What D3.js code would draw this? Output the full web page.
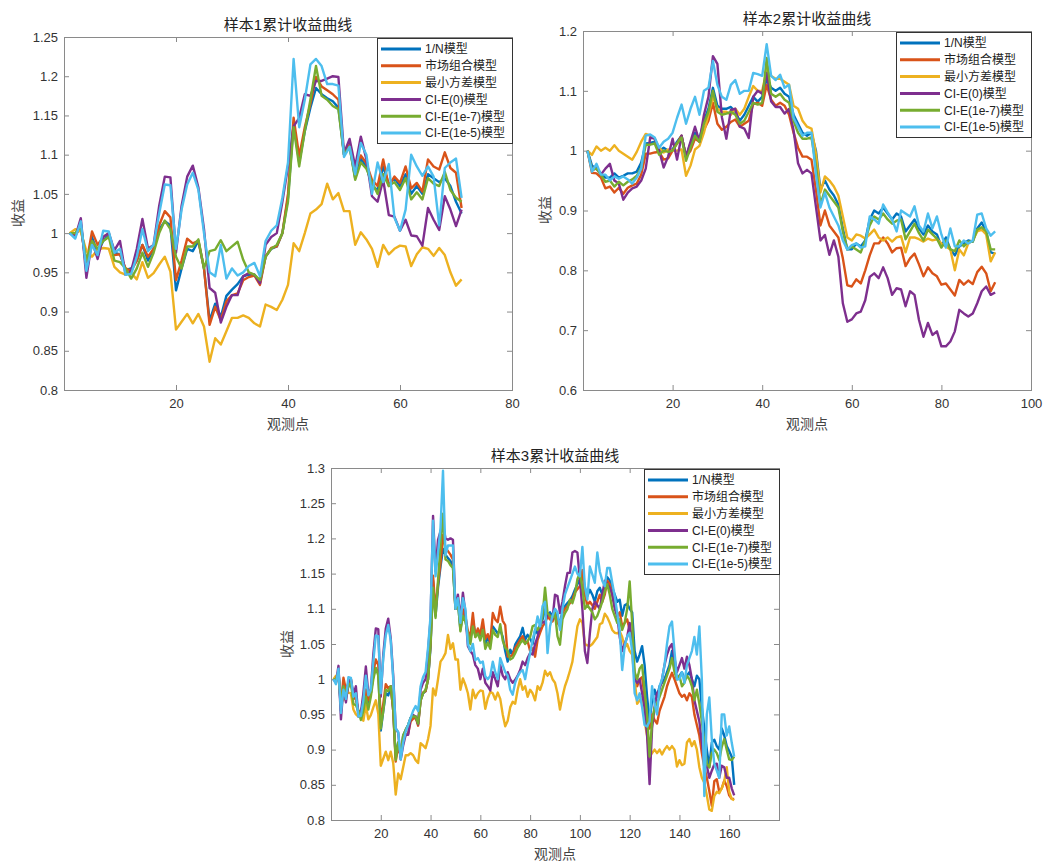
<!DOCTYPE html>
<html><head><meta charset="utf-8">
<script src="https://cdn.jsdelivr.net/npm/d3@7"></script>
<style>body{margin:0;background:#fff}</style>
</head><body>
<svg id="c" width="1048" height="861"></svg>
<script>
const seriesNames = ["1/N模型","市场组合模型","最小方差模型","CI-E(0)模型","CI-E(1e-7)模型","CI-E(1e-5)模型"];
const seriesColors = ["#0072BD","#D95319","#EDB120","#7E2F8E","#77AC30","#4DBEEE"];
const titles = ["样本1累计收益曲线","样本2累计收益曲线","样本3累计收益曲线"];
const xLabel = "观测点", yLabel = "收益";

const s1XTicks = [20,40,60,80];
const s2XTicks = [20,40,60,80,100];
const s3XTicks = [20,40,60,80,100,120,140,160];
const s1YTicks = [0.8,0.85,0.9,0.95,1,1.05,1.1,1.15,1.2,1.25];
const s2YTicks = [0.6,0.7,0.8,0.9,1,1.1,1.2];
const s3YTicks = [0.8,0.85,0.9,0.95,1,1.05,1.1,1.15,1.2,1.25,1.3];

// ---- sample 1 (71 points) ----
const s1Blue = [1.0,0.997,1.012,0.955,0.995,0.975,0.99,0.997,0.975,0.973,
0.953,0.955,0.965,0.985,0.965,0.98,1.005,1.015,1.01,0.927,
0.955,0.98,0.977,0.99,0.955,0.888,0.91,0.893,0.92,0.928,
0.935,0.945,0.947,0.947,0.937,0.97,0.98,0.983,1.0,1.045,
1.14,1.09,1.13,1.16,1.185,1.177,1.172,1.168,1.16,1.1,
1.11,1.07,1.095,1.085,1.06,1.055,1.085,1.062,1.07,1.06,
1.075,1.05,1.06,1.05,1.075,1.07,1.065,1.07,1.06,1.04,1.025];
const s1Market = [1.0,0.998,1.006,0.962,1.002,0.985,0.995,1.0,0.972,0.973,
0.955,0.952,0.965,0.985,0.97,0.98,1.01,1.028,1.02,0.94,
0.965,0.993,0.987,0.99,0.955,0.883,0.906,0.889,0.913,0.921,
0.923,0.94,0.944,0.946,0.934,0.97,0.981,0.983,1.0,1.05,
1.147,1.098,1.135,1.165,1.199,1.187,1.182,1.177,1.17,1.1,
1.113,1.081,1.099,1.089,1.068,1.06,1.094,1.06,1.072,1.064,
1.085,1.057,1.064,1.053,1.094,1.085,1.081,1.103,1.083,1.077,1.032];
const s1MinVar = [1.0,1.005,1.002,0.977,0.970,0.979,0.981,0.980,0.957,0.950,
0.947,0.949,0.941,0.963,0.943,0.949,0.960,0.970,0.951,0.877,
0.887,0.897,0.885,0.897,0.881,0.836,0.866,0.858,0.875,0.892,
0.892,0.895,0.892,0.885,0.881,0.909,0.906,0.902,0.915,0.934,
0.987,0.977,1.0,1.025,1.03,1.037,1.063,1.043,1.051,1.028,
1.028,0.985,1.001,0.992,0.98,0.957,0.985,0.973,0.98,0.984,
0.983,0.958,0.973,0.982,0.98,0.971,0.981,0.972,0.95,0.933,0.941];
const s1CIE0 = [1.0,0.995,1.019,0.943,0.99,0.967,0.995,1.0,0.978,0.99,
0.947,0.952,0.98,1.018,0.98,0.985,1.035,1.072,1.071,0.975,
1.035,1.072,1.086,1.058,1.005,0.93,0.924,0.886,0.906,0.921,
0.921,0.945,0.949,0.947,0.936,0.985,0.995,1.0,1.04,1.085,
1.136,1.147,1.177,1.175,1.194,1.194,1.197,1.2,1.199,1.102,
1.12,1.085,1.123,1.094,1.047,1.04,1.068,1.023,1.021,1.003,
1.017,0.997,0.996,0.984,1.032,1.017,1.004,1.047,1.03,1.009,1.03];
const s1CIE7 = [1.0,1.0,1.008,0.965,0.99,0.98,0.99,0.995,0.965,0.963,
0.955,0.942,0.955,0.975,0.957,0.975,1.0,1.016,1.005,0.97,
0.955,0.983,0.983,0.992,0.955,0.977,0.979,0.991,0.977,0.983,
0.989,0.966,0.95,0.947,0.94,0.97,0.98,0.985,1.0,1.04,
1.135,1.085,1.13,1.17,1.213,1.175,1.17,1.162,1.158,1.1,
1.11,1.068,1.09,1.082,1.065,1.05,1.075,1.06,1.065,1.055,
1.07,1.043,1.052,1.043,1.07,1.063,1.06,1.078,1.055,1.045,1.04];
const s1CIE5 = [1.0,0.993,1.015,0.952,0.985,0.972,1.003,1.002,0.975,0.98,
0.947,0.948,0.97,1.005,0.977,0.985,1.025,1.062,1.061,0.98,
1.03,1.062,1.077,1.055,1.0,0.95,0.945,0.985,0.942,0.955,
0.946,0.95,0.958,0.962,0.945,0.99,1.003,1.01,1.045,1.09,
1.222,1.135,1.17,1.215,1.222,1.213,1.19,1.19,1.188,1.097,
1.11,1.075,1.115,1.1,1.05,1.09,1.065,1.088,1.02,1.003,
1.03,1.1,1.085,1.073,1.085,1.072,1.01,1.083,1.09,1.095,1.045];

// ---- sample 2 (92 points) ----
const s2Blue = [1.0,0.975,0.97,0.962,0.955,0.955,0.962,0.955,0.958,0.962,
0.962,0.965,0.98,1.012,1.013,1.015,1.0,1.005,1.0,1.002,
1.015,1.025,0.99,1.012,1.03,1.02,1.05,1.07,1.105,1.075,
1.07,1.07,1.073,1.065,1.05,1.06,1.075,1.09,1.082,1.09,
1.12,1.105,1.1,1.105,1.095,1.09,1.06,1.045,1.03,1.025,
1.03,1.0,0.935,0.95,0.935,0.925,0.91,0.87,0.835,0.835,
0.845,0.84,0.85,0.885,0.9,0.895,0.905,0.895,0.885,0.895,
0.89,0.865,0.875,0.885,0.87,0.86,0.875,0.865,0.86,0.84,
0.855,0.835,0.825,0.84,0.845,0.85,0.848,0.87,0.88,0.865,
0.83,0.828];
const s2Market = [1.0,0.963,0.962,0.955,0.937,0.94,0.93,0.938,0.928,0.938,
0.942,0.945,0.96,0.995,0.995,0.997,0.998,0.985,0.987,1.0,
1.012,1.025,0.99,1.0,1.02,1.015,1.035,1.05,1.08,1.045,
1.035,1.04,1.048,1.052,1.04,1.045,1.05,1.078,1.08,1.075,
1.11,1.085,1.075,1.08,1.075,1.06,1.03,1.005,0.99,0.99,
0.985,0.935,0.875,0.9,0.875,0.865,0.855,0.82,0.775,0.773,
0.785,0.778,0.8,0.825,0.845,0.845,0.855,0.845,0.83,0.837,
0.838,0.807,0.82,0.828,0.81,0.79,0.805,0.795,0.79,0.776,
0.778,0.768,0.758,0.784,0.776,0.783,0.777,0.797,0.806,0.795,
0.765,0.78];
const s2MinVar = [1.0,0.993,1.007,1.0,1.005,1.0,1.009,1.0,0.995,0.99,
0.985,0.998,1.015,1.028,1.025,1.02,1.005,0.997,1.002,1.0,
1.0,1.002,0.958,0.975,1.002,1.008,1.03,1.06,1.09,1.07,
1.065,1.065,1.06,1.07,1.06,1.07,1.09,1.108,1.1,1.1,
1.135,1.125,1.12,1.12,1.115,1.11,1.075,1.07,1.05,1.04,
1.037,0.995,0.93,0.957,0.95,0.94,0.925,0.89,0.855,0.85,
0.86,0.858,0.853,0.86,0.868,0.855,0.85,0.855,0.848,0.855,
0.857,0.83,0.855,0.855,0.852,0.848,0.853,0.85,0.852,0.845,
0.84,0.835,0.8,0.835,0.825,0.845,0.85,0.865,0.868,0.86,
0.815,0.83];
const s2CIE0 = [1.0,0.968,0.97,0.96,0.97,0.978,0.95,0.945,0.918,0.93,
0.937,0.94,0.95,0.97,1.022,1.02,1.0,0.972,0.99,1.02,
0.985,1.025,0.99,1.015,1.04,1.015,1.06,1.09,1.158,1.145,
1.056,1.02,1.068,1.07,1.04,1.037,1.021,1.09,1.1,1.095,
1.13,1.082,1.073,1.073,1.062,1.07,1.034,0.979,0.962,0.968,
0.962,0.906,0.85,0.859,0.826,0.85,0.823,0.745,0.714,0.718,
0.728,0.731,0.75,0.789,0.795,0.787,0.805,0.787,0.759,0.77,
0.768,0.74,0.765,0.759,0.717,0.689,0.712,0.692,0.698,0.673,
0.673,0.681,0.698,0.734,0.728,0.723,0.728,0.745,0.765,0.773,
0.759,0.763];
const s2CIE7 = [1.0,0.968,0.97,0.96,0.948,0.95,0.94,0.948,0.942,0.948,
0.952,0.958,0.972,1.01,1.01,1.012,0.993,1.0,0.998,1.0,
1.012,1.022,0.983,1.005,1.025,1.015,1.045,1.065,1.1,1.065,
1.06,1.062,1.065,1.06,1.045,1.05,1.065,1.08,1.077,1.08,
1.155,1.095,1.09,1.095,1.085,1.08,1.05,1.03,1.02,1.02,
1.022,0.975,0.91,0.935,0.925,0.915,0.905,0.865,0.835,0.84,
0.835,0.83,0.85,0.875,0.89,0.885,0.895,0.885,0.878,0.883,
0.885,0.852,0.865,0.878,0.862,0.85,0.868,0.86,0.853,0.838,
0.85,0.835,0.832,0.85,0.84,0.848,0.848,0.868,0.872,0.865,
0.835,0.835];
const s2CIE5 = [1.0,0.965,0.978,0.96,0.96,0.95,0.957,0.953,0.957,0.952,
0.945,0.955,0.97,1.025,1.027,1.022,1.005,1.015,1.02,1.03,
1.055,1.077,1.045,1.07,1.09,1.06,1.1,1.105,1.15,1.11,
1.09,1.085,1.11,1.118,1.095,1.1,1.1,1.13,1.128,1.125,
1.178,1.125,1.118,1.127,1.105,1.11,1.055,1.04,1.025,1.03,
1.03,0.96,0.905,0.93,0.905,0.89,0.875,0.85,0.835,0.842,
0.845,0.838,0.84,0.89,0.885,0.878,0.91,0.897,0.885,0.865,
0.9,0.895,0.89,0.907,0.875,0.865,0.895,0.87,0.89,0.86,
0.838,0.87,0.84,0.84,0.85,0.845,0.85,0.893,0.895,0.87,
0.858,0.865];

// ---- sample 3 (162 points) ----
const s3Blue = [1.0,0.997,1.012,0.955,0.995,0.975,0.99,0.997,0.975,0.973,
0.953,0.955,0.965,0.985,0.965,0.98,1.005,1.015,1.01,0.927,
0.955,0.98,0.977,0.99,0.955,0.888,0.91,0.893,0.92,0.928,
0.935,0.945,0.947,0.947,0.937,0.97,0.98,0.983,1.0,1.045,
1.14,1.09,1.13,1.16,1.185,1.177,1.172,1.168,1.16,1.1,
1.11,1.07,1.095,1.085,1.06,1.055,1.085,1.062,1.07,1.06,
1.075,1.05,1.06,1.05,1.075,1.07,1.065,1.07,1.06,1.04,1.025,
1.042,1.035,1.049,1.055,1.061,1.073,1.056,1.063,1.058,1.05,
1.07,1.065,1.078,1.085,1.099,1.09,1.095,1.089,1.095,1.085,
1.082,1.095,1.104,1.108,1.112,1.118,1.127,1.135,1.142,1.15,
1.13,1.118,1.127,1.12,1.11,1.125,1.13,1.12,1.13,1.145,
1.14,1.13,1.12,1.11,1.113,1.09,1.105,1.107,1.1,1.095,
1.04,1.025,1.035,1.047,1.02,0.975,0.94,0.97,0.985,0.975,
0.99,0.995,1.0,1.01,1.02,1.04,1.02,1.0,1.005,1.01,
1.0,1.005,1.01,1.0,0.99,1.005,1.0,0.96,0.93,0.9,
0.875,0.91,0.914,0.905,0.9,0.93,0.92,0.905,0.898,0.89,0.85];
const s3Market = [1.0,0.998,1.006,0.962,1.002,0.985,0.995,1.0,0.972,0.973,
0.955,0.952,0.965,0.985,0.97,0.98,1.01,1.028,1.02,0.94,
0.965,0.993,0.987,0.99,0.955,0.883,0.906,0.889,0.913,0.921,
0.923,0.94,0.944,0.946,0.934,0.97,0.981,0.983,1.0,1.05,
1.147,1.098,1.135,1.165,1.205,1.187,1.182,1.177,1.17,1.1,
1.113,1.081,1.099,1.089,1.068,1.06,1.094,1.06,1.072,1.064,
1.085,1.057,1.064,1.053,1.094,1.085,1.081,1.103,1.083,1.077,1.032,
1.032,1.035,1.044,1.05,1.056,1.061,1.051,1.054,1.04,1.044,
1.032,1.056,1.066,1.075,1.08,1.089,1.085,1.082,1.09,1.08,
1.075,1.094,1.1,1.104,1.108,1.113,1.123,1.128,1.132,1.155,
1.12,1.105,1.11,1.105,1.1,1.11,1.12,1.11,1.12,1.14,
1.135,1.12,1.105,1.09,1.095,1.075,1.08,1.085,1.07,1.06,
1.0,0.99,1.0,1.003,0.975,0.945,0.93,0.95,0.942,0.937,
0.955,0.965,0.975,0.99,1.0,1.009,1.0,0.99,0.98,0.975,
0.978,0.97,0.98,0.975,0.95,0.935,0.92,0.895,0.875,0.86,
0.841,0.82,0.855,0.858,0.84,0.845,0.856,0.848,0.835,0.83,0.83];
const s3MinVar = [1.0,1.005,1.002,0.977,0.970,0.979,0.981,0.980,0.957,0.950,
0.947,0.949,0.941,0.963,0.943,0.949,0.960,0.970,0.951,0.877,
0.887,0.897,0.885,0.897,0.881,0.836,0.866,0.858,0.875,0.892,
0.892,0.895,0.892,0.885,0.881,0.909,0.906,0.902,0.915,0.934,
0.987,0.977,1.0,1.025,1.03,1.037,1.063,1.043,1.051,1.028,
1.028,0.985,1.001,0.992,0.98,0.957,0.985,0.973,0.98,0.984,
0.983,0.958,0.973,0.982,0.98,0.971,0.981,0.972,0.95,0.933,0.941,
0.96,0.968,0.965,0.985,1.0,0.985,0.99,0.975,0.985,0.98,
0.97,0.99,0.985,0.995,1.012,1.005,1.01,1.0,0.995,0.98,
0.957,0.975,0.99,1.0,1.012,1.025,1.05,1.075,1.085,1.08,
1.05,1.048,1.047,1.05,1.055,1.06,1.078,1.08,1.093,1.088,
1.08,1.07,1.066,1.065,1.068,1.06,1.045,1.05,1.04,1.035,
1.0,0.965,0.97,0.975,0.94,0.92,0.89,0.895,0.9,0.895,
0.9,0.893,0.9,0.905,0.9,0.905,0.9,0.876,0.885,0.878,
0.88,0.91,0.915,0.905,0.912,0.9,0.875,0.86,0.853,0.835,
0.815,0.813,0.834,0.84,0.838,0.845,0.855,0.875,0.84,0.83,0.828];
const s3CIE0 = [1.0,0.995,1.019,0.943,0.99,0.967,0.995,1.0,0.978,0.99,
0.947,0.952,0.98,1.018,0.98,0.985,1.035,1.072,1.071,0.975,
1.035,1.072,1.086,1.058,1.005,0.93,0.924,0.886,0.906,0.921,
0.921,0.945,0.949,0.947,0.936,0.985,0.995,1.0,1.04,1.085,
1.232,1.153,1.198,1.21,1.22,1.2,1.198,1.2,1.198,1.1,
1.12,1.085,1.123,1.094,1.047,1.04,1.035,1.02,1.015,1.0,
1.015,0.995,0.99,0.984,1.01,1.0,0.99,1.02,1.005,1.0,1.01,
1.0,0.995,0.999,1.005,1.013,1.025,1.02,1.03,1.037,1.035,
1.05,1.06,1.075,1.082,1.08,1.094,1.09,1.085,1.12,1.118,
1.094,1.11,1.132,1.151,1.151,1.18,1.182,1.18,1.142,1.1,
1.04,1.023,1.065,1.1,1.11,1.105,1.1,1.12,1.14,1.135,
1.13,1.12,1.1,1.09,1.06,1.04,1.05,1.06,1.08,1.05,
1.0,0.995,1.0,0.98,0.96,0.92,0.851,0.93,0.96,0.98,
0.985,1.0,1.02,1.035,1.045,1.05,1.03,1.01,1.02,1.03,
1.015,1.032,1.02,1.0,0.97,0.955,0.94,0.91,0.88,0.877,
0.86,0.87,0.879,0.88,0.86,0.877,0.875,0.86,0.86,0.845,0.835];
const s3CIE7 = [1.0,1.0,1.008,0.965,0.99,0.98,0.99,0.995,0.965,0.963,
0.955,0.942,0.955,0.975,0.957,0.975,1.0,1.016,1.005,0.93,
0.955,0.985,0.983,0.99,0.96,0.885,0.91,0.895,0.92,0.928,
0.935,0.945,0.947,0.947,0.937,0.97,0.98,0.985,1.0,1.05,
1.13,1.087,1.14,1.19,1.235,1.17,1.168,1.162,1.158,1.1,
1.11,1.068,1.09,1.082,1.065,1.05,1.075,1.06,1.065,1.055,
1.07,1.043,1.052,1.043,1.07,1.063,1.06,1.078,1.055,1.045,1.04,
1.028,1.03,1.037,1.045,1.051,1.056,1.05,1.054,1.06,1.075,
1.077,1.07,1.075,1.09,1.13,1.094,1.09,1.087,1.094,1.061,
1.049,1.085,1.094,1.1,1.113,1.108,1.12,1.142,1.151,1.13,
1.1,1.105,1.1,1.095,1.085,1.09,1.1,1.11,1.125,1.135,
1.12,1.1,1.09,1.08,1.085,1.07,1.08,1.1,1.139,1.08,
1.01,1.0,1.015,1.02,0.985,0.95,0.89,0.94,0.96,0.965,
0.975,0.985,0.995,1.005,1.015,1.03,1.01,1.0,1.005,0.99,
0.995,1.005,1.0,0.99,0.97,0.985,0.965,0.94,0.91,0.88,
0.875,0.895,0.9,0.895,0.885,0.904,0.915,0.9,0.886,0.885,0.89];
const s3CIE5 = [1.0,0.993,1.015,0.952,0.985,0.972,1.003,1.002,0.975,0.98,
0.947,0.948,0.97,1.005,0.977,0.985,1.025,1.062,1.061,0.98,
1.03,1.062,1.077,1.055,1.0,0.93,0.925,0.886,0.91,0.925,
0.935,0.945,0.955,0.962,0.955,0.99,1.003,1.01,1.045,1.09,
1.225,1.146,1.18,1.215,1.296,1.176,1.19,1.19,1.19,1.1,
1.115,1.08,1.115,1.1,1.05,1.04,1.05,1.027,1.03,1.023,
1.025,1.004,1.0,1.005,1.025,1.01,1.0,1.03,1.02,1.01,1.005,
0.985,0.978,0.995,1.004,1.01,1.013,1.0,1.02,1.037,1.056,
1.07,1.089,1.075,1.104,1.11,1.037,1.075,1.09,1.1,1.095,
1.07,1.1,1.12,1.13,1.14,1.15,1.16,1.15,1.146,1.188,
1.132,1.113,1.16,1.149,1.137,1.18,1.153,1.14,1.132,1.158,
1.158,1.137,1.118,1.094,1.068,1.013,1.047,1.061,1.066,1.04,
0.98,0.97,0.98,0.96,0.935,0.933,0.94,0.99,0.965,0.95,
0.99,1.0,1.02,1.05,1.075,1.082,1.04,1.0,1.0,1.01,
0.995,1.02,1.03,1.04,1.06,1.035,1.075,1.0,0.834,0.95,
0.974,0.915,0.88,0.87,0.86,0.95,0.95,0.92,0.933,0.91,0.89];

const panels = [
  {title: titles[0], series: [s1Blue,s1Market,s1MinVar,s1CIE0,s1CIE7,s1CIE5],
   xDomain:[0,80], xTicks:s1XTicks, yDomain:[0.8,1.25], yTicks:s1YTicks,
   box:{l:64,r:512,t:37,b:390}, ylabX:18, ylabY:213},
  {title: titles[1], series: [s2Blue,s2Market,s2MinVar,s2CIE0,s2CIE7,s2CIE5],
   xDomain:[0,100], xTicks:s2XTicks, yDomain:[0.6,1.2], yTicks:s2YTicks,
   box:{l:583,r:1031,t:31,b:390}, ylabX:545, ylabY:210},
  {title: titles[2], series: [s3Blue,s3Market,s3MinVar,s3CIE0,s3CIE7,s3CIE5],
   xDomain:[0,180], xTicks:s3XTicks, yDomain:[0.8,1.3], yTicks:s3YTicks,
   box:{l:331,r:779,t:468,b:820}, ylabX:287, ylabY:644}
];

const svg = d3.select("#c");
svg.append("rect").attr("width",1048).attr("height",861).attr("fill","#fff");
const numFont = "'Liberation Sans', Arial, Helvetica, sans-serif";
const cjkFont = "'Liberation Sans', Arial, 'Noto Sans CJK SC', sans-serif";
const fmt = d => String(+d.toFixed(2));

panels.forEach(p => {
  const B = p.box;
  const x = d3.scaleLinear().domain(p.xDomain).range([B.l, B.r]);
  const y = d3.scaleLinear().domain(p.yDomain).range([B.b, B.t]);
  const g = svg.append("g");

  const styleAxis = sel => {
    sel.select(".domain").remove();
    sel.selectAll(".tick line").attr("stroke","#8a8a8a").attr("stroke-width",1);
    sel.selectAll(".tick text").attr("fill","#333").style("font-family",numFont).style("font-size","13px");
  };
  g.append("g").attr("transform",`translate(${B.l},0)`)
    .call(d3.axisLeft(y).tickValues(p.yTicks).tickFormat(fmt).tickSizeInner(-5).tickSizeOuter(0).tickPadding(6))
    .call(styleAxis);
  g.append("g").attr("transform",`translate(${B.r},0)`)
    .call(d3.axisRight(y).tickValues(p.yTicks).tickFormat("").tickSizeInner(-5).tickSizeOuter(0))
    .call(styleAxis);
  g.append("g").attr("transform",`translate(0,${B.b})`)
    .call(d3.axisBottom(x).tickValues(p.xTicks).tickFormat(d3.format("d")).tickSizeInner(-5).tickSizeOuter(0).tickPadding(9))
    .call(styleAxis);
  g.append("g").attr("transform",`translate(0,${B.t})`)
    .call(d3.axisTop(x).tickValues(p.xTicks).tickFormat("").tickSizeInner(-5).tickSizeOuter(0))
    .call(styleAxis);

  const line = d3.line().x((d,i)=>x(i+1)).y(d=>y(d));
  p.series.forEach((s,k) => {
    g.append("path").datum(s).attr("d",line).attr("fill","none")
      .attr("stroke",seriesColors[k]).attr("stroke-width",2.4)
      .attr("stroke-linejoin","round");
  });

  g.append("rect").attr("x",B.l+0.5).attr("y",B.t+0.5)
    .attr("width",B.r-B.l).attr("height",B.b-B.t)
    .attr("fill","none").attr("stroke","#8a8a8a").attr("stroke-width",1);

  // title
  g.append("text").attr("x",(B.l+B.r)/2).attr("y",B.t-7).attr("text-anchor","middle")
    .style("font-family",cjkFont).style("font-size","15px").attr("fill","#222").text(p.title);
  // x label
  g.append("text").attr("x",(B.l+B.r)/2).attr("y",B.b+39).attr("text-anchor","middle")
    .style("font-family",cjkFont).style("font-size","14px").attr("fill","#444").text(xLabel);
  // y label
  g.append("text").attr("transform",`translate(${p.ylabX+5},${p.ylabY}) rotate(-90)`)
    .attr("text-anchor","middle")
    .style("font-family",cjkFont).style("font-size","14px").attr("fill","#444").text(yLabel);

  // legend
  const lw = 135, lh = 105;
  const lx = B.r - lw, ly = B.t + 1;
  const lg = g.append("g");
  lg.append("rect").attr("x",lx+0.5).attr("y",ly+0.5).attr("width",lw).attr("height",lh)
    .attr("fill","#fff").attr("stroke","#333").attr("stroke-width",1);
  seriesNames.forEach((n,k) => {
    const yy = ly + 11 + k*16.8;
    lg.append("line").attr("x1",lx+4).attr("x2",lx+44).attr("y1",yy).attr("y2",yy)
      .attr("stroke",seriesColors[k]).attr("stroke-width",3);
    lg.append("text").attr("x",lx+48).attr("y",yy+4.3)
      .style("font-family",cjkFont).style("font-size","12px").attr("fill","#222").text(n);
  });
});
</script>
</body></html>
